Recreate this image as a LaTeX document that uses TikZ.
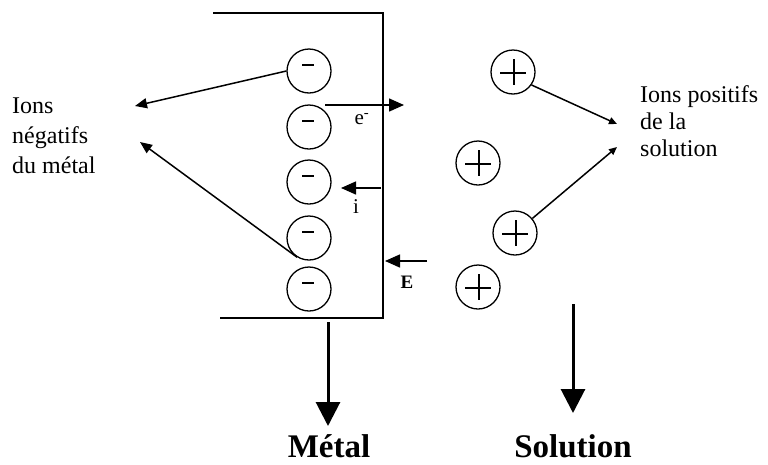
\documentclass[tikz,border=0pt]{standalone}
\usepackage{fontspec}
\setmainfont{Liberation Serif}
\usetikzlibrary{arrows.meta,calc}
\begin{document}
\begin{tikzpicture}[x=1pt,y=-1pt,
  ion/.style={draw,circle,minimum size=44pt,inner sep=0pt,line width=1.3pt},
  sym/.style={line width=1.3pt},
  wall/.style={line width=1.8pt},
  bigarr/.style={line width=1.5pt,-{Triangle[length=15pt,width=13pt]}},
  sidearr/.style={line width=1.5pt,-{Triangle[length=12pt,width=10pt]}},
  smallarr/.style={line width=1.5pt,-{Triangle[length=8pt,width=7pt]}},
  downarr/.style={line width=3pt,-{Triangle[length=24pt,width=24pt]}},
  sidetext/.style={align=left,inner sep=0pt,anchor=north west},
  biglabel/.style={anchor=base,inner sep=0pt,font=\bfseries\fontsize{33}{33}\selectfont},
]
\useasboundingbox (0,0) rectangle (768,464);
% metal block
\draw[wall] (213,13) -- (383,13) -- (383,318) -- (220,318);
% negative ions
\foreach \n/\y in {1/71,2/127,3/182,4/238,5/289}{
  \node[ion] (n\n) at (309,\y) {};
  \draw[sym] ($(n\n)+(-7,-6)$) -- ($(n\n)+(5,-6)$);
}
% positive ions
\foreach \n/\x/\y in {1/513/72,2/478/163,3/515/233,4/478/287}{
  \node[ion] (p\n) at (\x,\y) {};
  \draw[sym] ($(p\n)+(-13,1)$) -- ($(p\n)+(13,1)$);
  \draw[sym] ($(p\n)+(1,-13)$) -- ($(p\n)+(1,13)$);
}
% texts
\node[sidetext,font=\fontsize{24}{30}\selectfont] (tneg) at (12,98) {Ions\\négatifs\\du métal};
\node[sidetext,font=\fontsize{24}{27}\selectfont] (tpos) at (640,85) {Ions positifs\\de la\\solution};
% arrows to left text
\coordinate (lt1) at (135,106);
\coordinate (lt2) at (140,142);
\draw[sidearr] (n1.west) -- (lt1);
\draw[sidearr] (n4.238) -- (lt2);
% arrows to right text
\coordinate (rt1) at (617,124);
\coordinate (rt2) at (617,147);
\draw[smallarr] (p1.-35) -- (rt1);
\draw[smallarr] (p3.40) -- (rt2);
% e-, i, E arrows
\coordinate (ea) at (325,105); \coordinate (eb) at (404,105);
\draw[bigarr] (ea) -- (eb);
\node[font=\fontsize{21}{21}\selectfont] (le) at (362,119) {e\textsuperscript{-}};
\coordinate (ia) at (381,188); \coordinate (ib) at (341,188);
\draw[bigarr] (ia) -- (ib);
\node[font=\fontsize{21}{21}\selectfont] (li) at (356,207) {i};
\coordinate (Ea) at (427,261); \coordinate (Eb) at (385,261);
\draw[bigarr] (Ea) -- (Eb);
\node[font=\bfseries\fontsize{19}{19}\selectfont] (lE) at (407,282) {E};
% bottom arrows and labels
\node[biglabel] (metal) at (329,457) {Métal};
\node[biglabel] (sol) at (573,457) {Solution};
\coordinate (ma) at (328,322);
\coordinate (mb) at (328,426);
\coordinate (sa) at (573,304);
\coordinate (sb) at (573,413);
\draw[downarr] (ma) -- (mb);
\draw[downarr] (sa) -- (sb);
\end{tikzpicture}
\end{document}
